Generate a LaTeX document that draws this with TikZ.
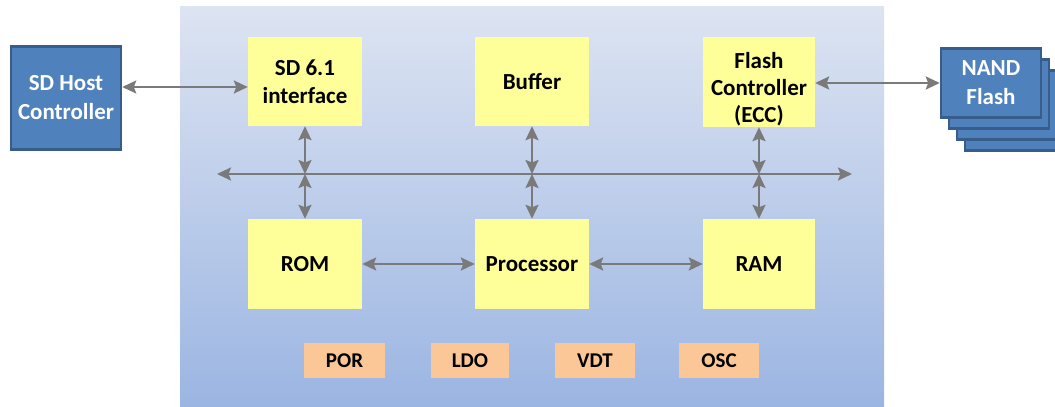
\documentclass[tikz,border=0pt]{standalone}
\usepackage{fontspec}
\setmainfont{Carlito}
\usetikzlibrary{arrows.meta}
\definecolor{bgtop}{HTML}{DDE4F2}
\definecolor{bgbot}{HTML}{9BB5E2}
\definecolor{yel}{HTML}{FFFF99}
\definecolor{peach}{HTML}{FCC796}
\definecolor{bluef}{HTML}{4F81BD}
\definecolor{blued}{HTML}{385D8A}
\definecolor{arr}{HTML}{7A7A7A}
\tikzset{
  blk/.style={fill=yel, draw=none, inner sep=0pt, align=center,
    font=\fontsize{23}{28}\selectfont\bfseries, text=black},
  pwr/.style={fill=peach, draw=none, inner sep=0pt, minimum width=80pt, minimum height=35pt,
    font=\fontsize{21}{24}\selectfont\bfseries, text=black},
  ext/.style={fill=bluef, draw=blued, line width=2.5pt, inner sep=0pt, align=center,
    font=\fontsize{23}{29}\selectfont\bfseries, text=white},
  tip/.tip={Stealth[length=14pt,width=13pt,inset=2.5pt]},
  con/.style={draw=arr, line width=2.3pt, tip-tip},
}
\begin{document}
\begin{tikzpicture}[x=1pt,y=-1pt]
\useasboundingbox (0,0) rectangle (1055,407);
\shade[top color=bgtop, bottom color=bgbot] (180,6) rectangle (884,407);
% external
\node[ext, minimum width=110pt, minimum height=103pt] (host) at (66,98) {SD Host\\Controller};
\node[ext, minimum width=100pt, minimum height=69pt] (n4) at (1015,116) {};
\node[ext, minimum width=100pt, minimum height=69pt] (n3) at (1007,105) {};
\node[ext, minimum width=100pt, minimum height=69pt] (n2) at (999,94) {};
\node[ext, minimum width=100pt, minimum height=69pt] (nand) at (991,83) {NAND\\Flash};
% blocks
\node[blk, minimum width=114pt, minimum height=89pt] (sd) at (305,81.5) {SD 6.1\\interface};
\node[blk, minimum width=114pt, minimum height=89pt] (buf) at (532,81.5) {Buffer};
\node[blk, minimum width=112pt, minimum height=90pt] (fc) at (759,82) {};
\node[blk, fill=none, font=\fontsize{23}{27}\selectfont\bfseries] (fct) at ([yshift=-7pt]fc.center) {Flash\\Controller\\(ECC)};
\node[blk, minimum width=114pt, minimum height=90pt] (rom) at (305,264) {ROM};
\node[blk, minimum width=114pt, minimum height=90pt] (cpu) at (532,264) {Processor};
\node[blk, minimum width=112pt, minimum height=90pt] (ram) at (759,264) {RAM};
% power
\node[pwr, minimum width=81pt] (por) at (344.5,360.5) {POR};
\node[pwr, minimum width=78pt] (ldo) at (470,360.5) {LDO};
\node[pwr] (vdt) at (595,360.5) {VDT};
\node[pwr] (osc) at (719,360.5) {OSC};
% bus
\coordinate (busL) at (217,174);
\coordinate (busR) at (852,174);
\coordinate (hy) at (0,87);
\draw[con] (busL) -- (busR);
\foreach \a/\b in {sd/rom, buf/cpu, fc/ram}{
  \draw[con] (\a.south) -- (\a.south |- busL);
  \draw[con] (\b.north |- busL) -- (\b.north);
}
\draw[con] (host.east |- hy) -- (sd.west |- hy);
\draw[con] (fc.east |- nand.west) -- (nand.west);
\draw[con] (rom.east) -- (cpu.west);
\draw[con] (cpu.east) -- (ram.west);
\end{tikzpicture}
\end{document}
